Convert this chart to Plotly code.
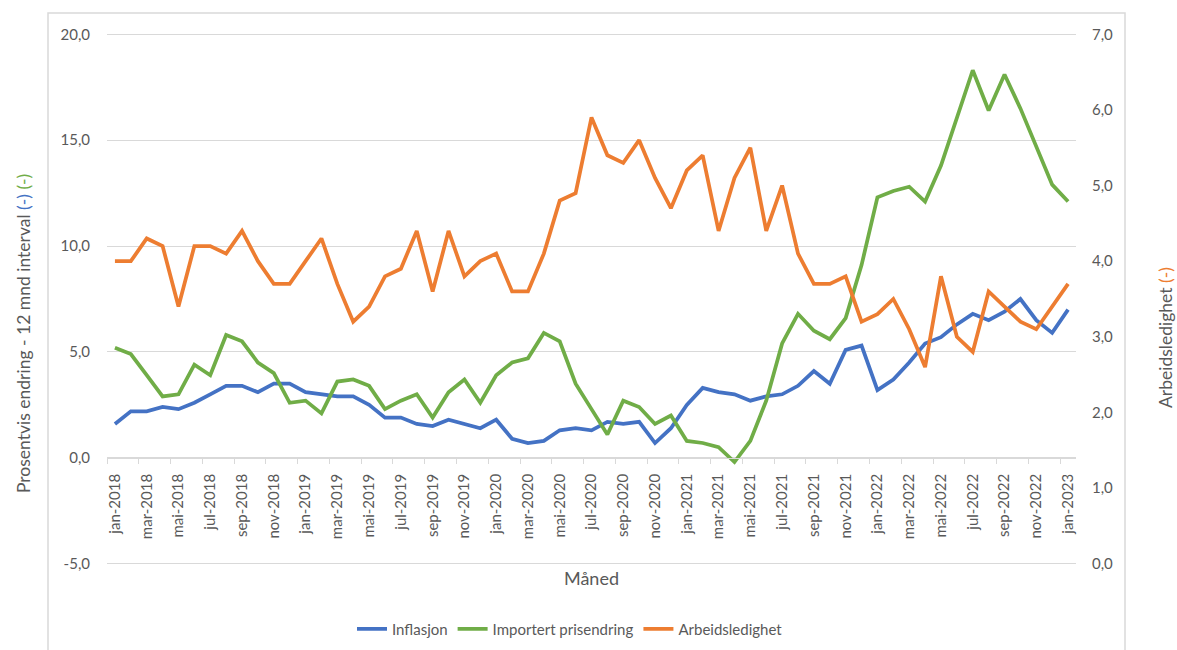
import plotly.graph_objects as go

# ---------------- data ----------------
month_names = ["jan", "feb", "mar", "apr", "mai", "jun", "jul", "aug", "sep", "okt", "nov", "des"]
years = [2018, 2019, 2020, 2021, 2022, 2023]
months = [f"{m}-{y}" for y in years for m in month_names][:61]  # jan-2018 .. jan-2023

inflasjon = [1.6, 2.2, 2.2, 2.4, 2.3, 2.6, 3.0, 3.4, 3.4, 3.1, 3.5, 3.5,
             3.1, 3.0, 2.9, 2.9, 2.5, 1.9, 1.9, 1.6, 1.5, 1.8, 1.6, 1.4,
             1.8, 0.9, 0.7, 0.8, 1.3, 1.4, 1.3, 1.7, 1.6, 1.7, 0.7, 1.4,
             2.5, 3.3, 3.1, 3.0, 2.7, 2.9, 3.0, 3.4, 4.1, 3.5, 5.1, 5.3,
             3.2, 3.7, 4.5, 5.4, 5.7, 6.3, 6.8, 6.5, 6.9, 7.5, 6.5, 5.9,
             7.0]

importert = [5.2, 4.9, 3.9, 2.9, 3.0, 4.4, 3.9, 5.8, 5.5, 4.5, 4.0, 2.6,
             2.7, 2.1, 3.6, 3.7, 3.4, 2.3, 2.7, 3.0, 1.9, 3.1, 3.7, 2.6,
             3.9, 4.5, 4.7, 5.9, 5.5, 3.5, 2.3, 1.1, 2.7, 2.4, 1.6, 2.0,
             0.8, 0.7, 0.5, -0.2, 0.8, 2.7, 5.4, 6.8, 6.0, 5.6, 6.6, 9.1,
             12.3, 12.6, 12.8, 12.1, 13.8, 16.1, 18.3, 16.4, 18.1, 16.5, 14.7, 12.9,
             12.1]

arbeidsledighet = [4.0, 4.0, 4.3, 4.2, 3.4, 4.2, 4.2, 4.1, 4.4, 4.0, 3.7, 3.7,
                   4.0, 4.3, 3.7, 3.2, 3.4, 3.8, 3.9, 4.4, 3.6, 4.4, 3.8, 4.0,
                   4.1, 3.6, 3.6, 4.1, 4.8, 4.9, 5.9, 5.4, 5.3, 5.6, 5.1, 4.7,
                   5.2, 5.4, 4.4, 5.1, 5.5, 4.4, 5.0, 4.1, 3.7, 3.7, 3.8, 3.2,
                   3.3, 3.5, 3.1, 2.6, 3.8, 3.0, 2.8, 3.6, 3.4, 3.2, 3.1, 3.4,
                   3.7]

left_ticks = [-5, 0, 5, 10, 15, 20]
left_ticktext = ["-5,0", "0,0", "5,0", "10,0", "15,0", "20,0"]
right_ticks = [0, 1, 2, 3, 4, 5, 6, 7]
right_ticktext = ["0,0", "1,0", "2,0", "3,0", "4,0", "5,0", "6,0", "7,0"]

# ---------------- styling ----------------
BLUE = "#4472C4"
GREEN = "#70AD47"
ORANGE = "#ED7D31"
GRID = "#D9D9D9"
TXT = "#595959"
FONT = "Lato"

x = list(range(len(months)))

fig = go.Figure()
fig.add_trace(go.Scatter(x=x, y=inflasjon, name="Inflasjon", mode="lines",
                         line=dict(color=BLUE, width=3.75), yaxis="y"))
fig.add_trace(go.Scatter(x=x, y=importert, name="Importert prisendring", mode="lines",
                         line=dict(color=GREEN, width=3.75), yaxis="y"))
fig.add_trace(go.Scatter(x=x, y=arbeidsledighet, name="Arbeidsledighet", mode="lines",
                         line=dict(color=ORANGE, width=3.75), yaxis="y2"))

L, R, T, B = 107, 101, 33, 85
W, H = 1177, 650
ph = H - T - B
pw = W - L - R
eps = 0.06
zero_pos = (0 - (-5 - eps)) / (25.0 + 2 * eps)
eps2 = eps * 7 / 25.0


def py(Y):
    """pixel row -> paper fraction"""
    return (H - B - Y) / ph


def px(X):
    return (X - L) / pw


fig.update_layout(
    width=W, height=H,
    margin=dict(l=L, r=R, t=T, b=B, autoexpand=False),
    paper_bgcolor="white", plot_bgcolor="white",
    font=dict(family=FONT, color=TXT, size=15),
    showlegend=True,
    legend=dict(orientation="h", x=px(570), xanchor="center", y=py(629), yanchor="middle",
                font=dict(family=FONT, size=15, color=TXT),
                traceorder="normal"),
    xaxis=dict(
        range=[-0.5, len(months) - 0.5],
        anchor="free", position=zero_pos, automargin=False,
        showline=True, linecolor=GRID, linewidth=1,
        showgrid=False, zeroline=False,
        tickmode="array", tickvals=x[::2], ticktext=months[::2],
        ticks="", tickangle=-90, tickfont=dict(size=15, color=TXT, family=FONT),
        ticklabelstandoff=9,
        minor=dict(tickmode="linear", tick0=-0.5, dtick=2, ticks="outside",
                   ticklen=5, tickcolor=GRID, tickwidth=1, showgrid=False),
        title=dict(text="Måned", font=dict(size=18, color=TXT, family=FONT), standoff=34),
    ),
    yaxis=dict(
        range=[-5 - eps, 20 + eps], tickmode="array", tickvals=left_ticks, ticktext=left_ticktext,
        showgrid=True, gridcolor=GRID, gridwidth=1, zeroline=False, showline=False,
        automargin=False,
        ticks="", tickfont=dict(size=15, color=TXT, family=FONT), ticklabelstandoff=16,
    ),
    yaxis2=dict(
        range=[0 - eps2, 7 + eps2], tickmode="array", tickvals=right_ticks, ticktext=right_ticktext,
        overlaying="y", side="right", showgrid=False, zeroline=False, showline=False,
        automargin=False,
        ticks="", tickfont=dict(size=15, color=TXT, family=FONT), ticklabelstandoff=15,
    ),
)

# axis titles (centred on the chart area, as in the original)
fig.add_annotation(xref="paper", yref="paper", x=px(23), y=py(334),
                   text="Prosentvis endring - 12 mnd interval "
                        f"<span style='color:{BLUE}'>(-)</span> "
                        f"<span style='color:{GREEN}'>(-)</span>",
                   textangle=-90, showarrow=False, xanchor="center", yanchor="middle",
                   font=dict(size=17.5, color=TXT, family=FONT))
fig.add_annotation(xref="paper", yref="paper", x=px(1166), y=py(338),
                   text=f"Arbeidsledighet <span style='color:{ORANGE}'>(-)</span>",
                   textangle=-90, showarrow=False, xanchor="center", yanchor="middle",
                   font=dict(size=17.5, color=TXT, family=FONT))

# chart-area border (Excel chart frame), extends past the bottom of the window
fig.add_shape(type="rect", xref="paper", yref="paper",
              x0=px(48), x1=px(1125), y0=py(680), y1=py(13),
              line=dict(color=GRID, width=1.5), fillcolor="rgba(0,0,0,0)", layer="below")

fig.write_html("out.html")
